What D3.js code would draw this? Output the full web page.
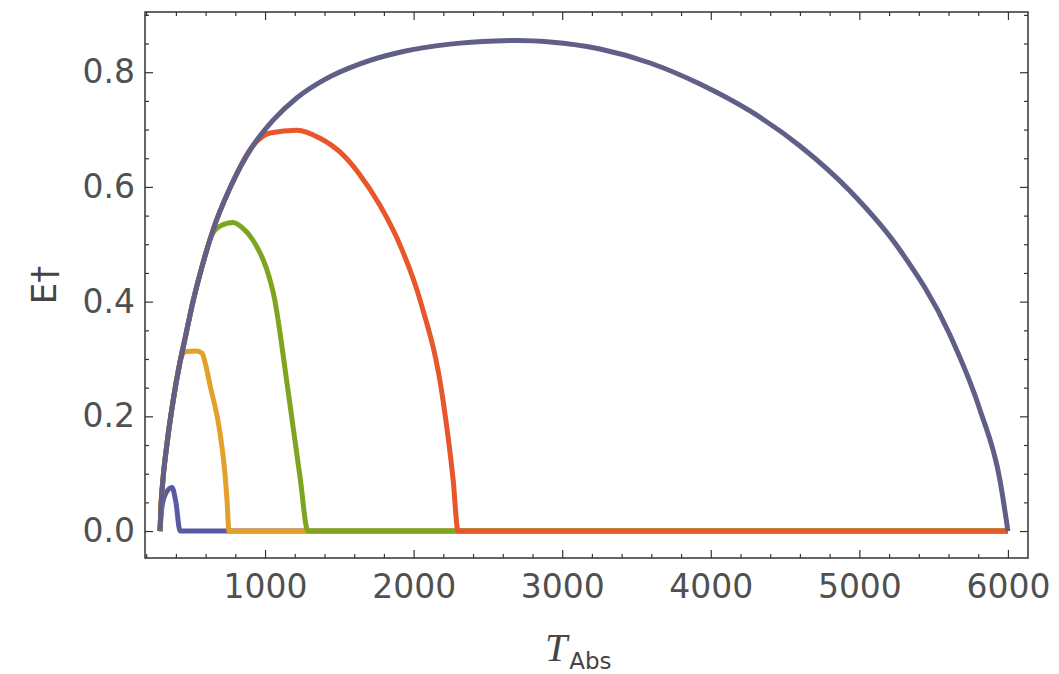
<!DOCTYPE html>
<html>
<head>
<meta charset="utf-8">
<script src="https://cdn.jsdelivr.net/npm/d3@7"></script>
<style>
  body { margin: 0; background: #fff; }
  text { font-family: "DejaVu Sans", sans-serif; }
</style>
</head>
<body>
<script>
var w = 1059;
var h = 674;

// curve data (T in K, efficiency E†)
var bigT = [293, 300, 313, 340, 380, 428, 461, 515, 580, 650, 764, 919, 1053, 1215, 1403, 1639, 1908, 2245, 2548, 2700, 2918, 3254, 3591, 3927, 4264, 4600, 4937, 5273, 5610, 5812, 5946, 6000];
var bigE = [0, 0.045, 0.09, 0.152, 0.225, 0.295, 0.335, 0.40, 0.465, 0.525, 0.598, 0.672, 0.716, 0.7556, 0.7876, 0.8147, 0.8349, 0.849, 0.8545, 0.8553, 0.8527, 0.8405, 0.8161, 0.7795, 0.7324, 0.6714, 0.5929, 0.49, 0.3418, 0.2111, 0.089, 0];

var smallT = [293, 305, 330, 374, 400, 428, 6000];
var smallE = [0, 0.04, 0.065, 0.076, 0.05, 0, 0];

var orangeT = [293, 300, 313, 340, 380, 428, 445, 470, 540, 576, 600, 629, 697, 730, 744, 757, 6000];
var orangeE = [0, 0.045, 0.09, 0.152, 0.225, 0.295, 0.308, 0.313, 0.314, 0.31, 0.29, 0.255, 0.171, 0.1, 0.054, 0, 0];

var greenT = [293, 300, 313, 340, 380, 428, 461, 515, 580, 640, 700, 784, 850, 919, 1013, 1060, 1152, 1235, 1289, 6000];
var greenE = [0, 0.045, 0.09, 0.152, 0.225, 0.295, 0.335, 0.40, 0.465, 0.515, 0.532, 0.538, 0.528, 0.507, 0.455, 0.41, 0.25, 0.095, 0, 0];

var redT = [293, 300, 313, 340, 380, 428, 461, 515, 580, 650, 764, 919, 1034, 1215, 1370, 1504, 1639, 1773, 1908, 2043, 2198, 2266, 2299, 6000];
var redE = [0, 0.045, 0.09, 0.152, 0.225, 0.295, 0.335, 0.40, 0.465, 0.525, 0.598, 0.672, 0.694, 0.699, 0.685, 0.661, 0.621, 0.568, 0.499, 0.403, 0.228, 0.089, 0, 0];

var xTicks = [1000, 2000, 3000, 4000, 5000, 6000];
var yTicks = [0.0, 0.2, 0.4, 0.6, 0.8];

var pL = 145, pR = 1028, pT = 12, pB = 558;

var x = d3.scaleLinear().domain([192, 6135]).range([pL, pR]);
var y = d3.scaleLinear().domain([-0.047, 0.905]).range([pB, pT]);

var svg = d3.select("body").append("svg").attr("width", w).attr("height", h);

function zip(ts, es) {
  return ts.map(function (t, i) { return [t, es[i]]; });
}

var line = d3.line()
  .x(function (d) { return x(d[0]); })
  .y(function (d) { return y(d[1]); })
  .curve(d3.curveMonotoneX);

var series = [
  { data: zip(smallT, smallE), color: "#5a59a4" },
  { data: zip(orangeT, orangeE), color: "#e3a12a" },
  { data: zip(greenT, greenE), color: "#7ea51f" },
  { data: zip(redT, redE), color: "#e8562b" },
  { data: zip(bigT, bigE), color: "#5f5f88" }
];

svg.append("clipPath").attr("id", "clip")
  .append("rect").attr("x", pL).attr("y", pT).attr("width", pR - pL).attr("height", pB - pT);

svg.selectAll("path.curve")
  .data(series)
  .enter()
  .append("path")
  .attr("class", "curve")
  .attr("clip-path", "url(#clip)")
  .attr("d", function (d) { return line(d.data); })
  .attr("fill", "none")
  .attr("stroke", function (d) { return d.color; })
  .attr("stroke-width", 5)
  .attr("stroke-linejoin", "round")
  .attr("stroke-linecap", "butt");

// frame axes with inward ticks on all sides
var xMinor = d3.range(200, 6136, 200).filter(function (v) { return v % 1000 !== 0; });
var yMinor = d3.range(-0.05, 0.91, 0.05).map(function (v) { return Math.round(v * 100) / 100; })
  .filter(function (v) { return Math.round(v * 100) % 20 !== 0 && v > -0.047; });

function styleAxis(g) {
  g.select(".domain").remove();
  g.selectAll("line").attr("stroke", "#333").attr("stroke-width", 1.2);
}

svg.append("g").attr("transform", "translate(0," + pB + ")")
  .call(d3.axisBottom(x).tickValues(xTicks).tickSize(-8).tickPadding(17).tickFormat(d3.format("d")))
  .call(styleAxis);
svg.append("g").attr("transform", "translate(0," + pB + ")")
  .call(d3.axisBottom(x).tickValues(xMinor).tickSize(-4).tickFormat(""))
  .call(styleAxis);
svg.append("g").attr("transform", "translate(0," + pT + ")")
  .call(d3.axisTop(x).tickValues(xTicks).tickSize(-8).tickFormat(""))
  .call(styleAxis);
svg.append("g").attr("transform", "translate(0," + pT + ")")
  .call(d3.axisTop(x).tickValues(xMinor).tickSize(-4).tickFormat(""))
  .call(styleAxis);

svg.append("g").attr("transform", "translate(" + pL + ",0)")
  .call(d3.axisLeft(y).tickValues(yTicks).tickSize(-8).tickPadding(10).tickFormat(d3.format(".1f")))
  .call(styleAxis);
svg.append("g").attr("transform", "translate(" + pL + ",0)")
  .call(d3.axisLeft(y).tickValues(yMinor).tickSize(-4).tickFormat(""))
  .call(styleAxis);
svg.append("g").attr("transform", "translate(" + pR + ",0)")
  .call(d3.axisRight(y).tickValues(yTicks).tickSize(-8).tickFormat(""))
  .call(styleAxis);
svg.append("g").attr("transform", "translate(" + pR + ",0)")
  .call(d3.axisRight(y).tickValues(yMinor).tickSize(-4).tickFormat(""))
  .call(styleAxis);

svg.selectAll(".tick text")
  .attr("font-family", "DejaVu Sans, sans-serif")
  .attr("font-size", 33)
  .attr("fill", "#505050");

svg.append("rect")
  .attr("x", pL).attr("y", pT)
  .attr("width", pR - pL).attr("height", pB - pT)
  .attr("fill", "none")
  .attr("stroke", "#333")
  .attr("stroke-width", 1.5);

// axis labels
var xl = svg.append("text")
  .attr("x", 545).attr("y", 661)
  .attr("fill", "#444");
xl.append("tspan").attr("font-style", "italic").attr("font-size", 40).attr("font-family", "Liberation Serif, serif").text("T");
xl.append("tspan").attr("font-size", 23).attr("dy", 8).attr("dx", 2).text("Abs");

svg.append("text")
  .attr("transform", "translate(56,285) rotate(-90)")
  .attr("text-anchor", "middle")
  .attr("font-size", 34)
  .attr("fill", "#444")
  .text("E†");
</script>
</body>
</html>
